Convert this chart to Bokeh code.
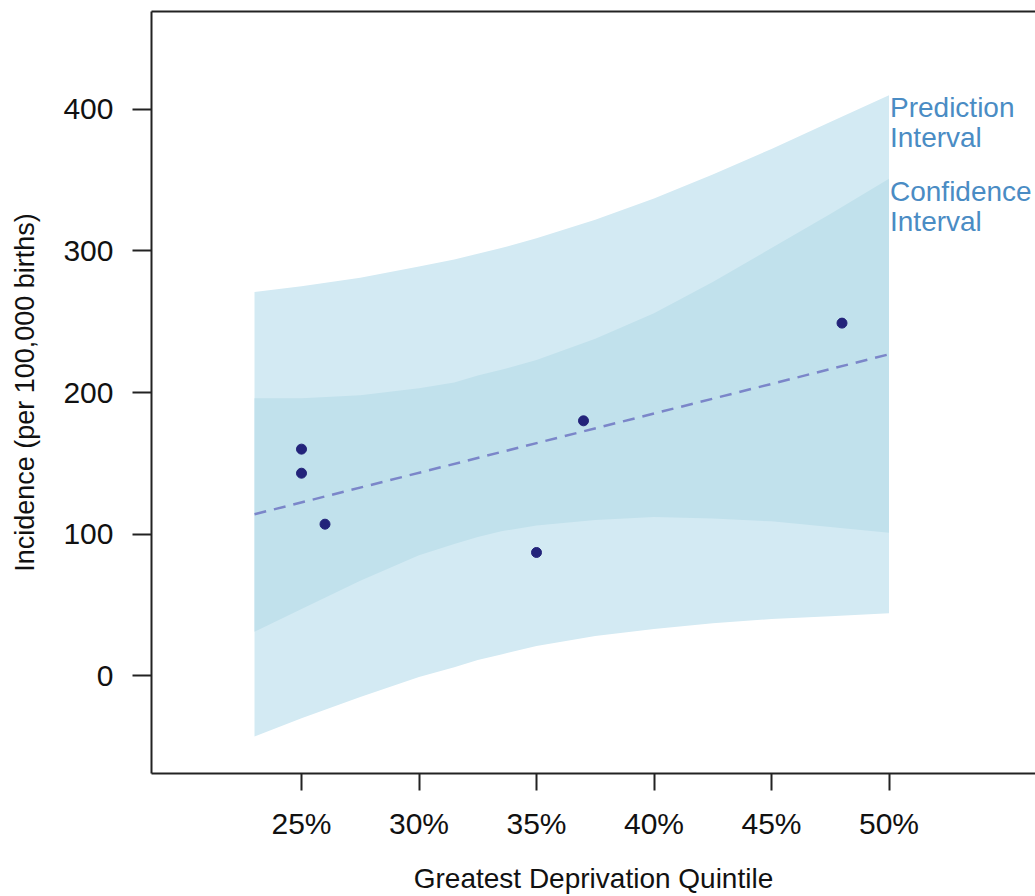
from bokeh.plotting import figure
from bokeh.models import LinearAxis, FixedTicker, PrintfTickFormatter, Range1d
from bokeh.embed import file_html
from bokeh.resources import INLINE
from bokeh.core.properties import value

# ---- data ----
quintile_pct = [25, 25, 26, 35, 37, 48]
incidence = [160, 143, 107, 87, 180, 249]

band_x = [23, 25, 27.5, 30, 31.5, 32.5, 33.5, 35, 37.5, 40, 42.5, 45, 47.5, 50]
pi_upper = [271, 275, 281, 289, 294, 298, 302, 309, 322, 337, 354, 372, 391, 410]
ci_upper = [196, 196, 198, 203, 207, 212, 216, 223, 238, 256, 278, 302, 326, 351]
ci_lower = [31, 47, 67, 85, 93, 98, 102, 106, 110, 112, 111, 109, 105, 101]
pi_lower = [-43, -30, -15, -1, 6, 11, 15, 21, 28, 33, 37, 40, 42, 44]

fit_x = [23, 50]
fit_y = [114, 227]

x_ticks = [25, 30, 35, 40, 45, 50]
y_ticks = [0, 100, 200, 300, 400]

band_labels = ["Prediction\nInterval", "Confidence\nInterval"]

FONT = "Liberation Sans"
AX = "#222222"

p = figure(width=1035, height=896, output_backend="svg", toolbar_location=None,
           x_range=Range1d(18.617, 56.234), y_range=Range1d(-69.1, 469.1),
           min_border_left=151, min_border_right=0, min_border_top=11, min_border_bottom=122)
p.outline_line_color = None
p.xgrid.grid_line_color = None
p.ygrid.grid_line_color = None
p.background_fill_color = "white"

# bands
p.varea(x=band_x, y1=pi_lower, y2=pi_upper, fill_color="#d3eaf3")
p.varea(x=band_x, y1=ci_lower, y2=ci_upper, fill_color="#c1e1ec")

# fit line
p.line(fit_x, fit_y, line_color="#7b86c9", line_width=2.5, line_dash="12 8")

# points
p.scatter(quintile_pct, incidence, size=10, color="#23237a")

# labels
p.text(x=[band_x[-1], band_x[-1]], y=[pi_upper[-1], ci_upper[-1]], text=band_labels,
       text_font=value(FONT), text_font_size="28px", text_color="#4a8cc4",
       text_baseline="top", text_align="left", text_line_height=0.97,
       x_offset=1, y_offset=-3)

# axes styling
for ax in (p.xaxis[0], p.yaxis[0]):
    ax.axis_line_width = 2
    ax.axis_line_color = AX
    ax.major_tick_line_width = 2
    ax.major_tick_line_color = AX
    ax.major_tick_in = 0
    ax.minor_tick_in = 0
    ax.minor_tick_out = 0
    ax.major_label_text_font = FONT
    ax.major_label_text_font_size = "30px"
    ax.major_label_text_color = "#111111"
    ax.axis_label_text_font = FONT
    ax.axis_label_text_font_style = "normal"
    ax.axis_label_text_color = "#111111"

p.xaxis.ticker = FixedTicker(ticks=x_ticks)
p.xaxis.formatter = PrintfTickFormatter(format="%d%%")
p.xaxis.major_tick_out = 17
p.xaxis.major_label_standoff = 16
p.xaxis.axis_label = "Greatest Deprivation Quintile"
p.xaxis.axis_label_text_font_size = "28px"
p.xaxis.axis_label_standoff = 20

p.yaxis.ticker = FixedTicker(ticks=y_ticks)
p.yaxis.major_tick_out = 19
p.yaxis.major_label_standoff = 19
p.yaxis.axis_label = "Incidence (per 100,000 births)"
p.yaxis.axis_label_text_font_size = "27px"
p.yaxis.axis_label_standoff = 20

# top frame line
top = LinearAxis(ticker=FixedTicker(ticks=[]), major_tick_out=0, major_tick_in=0,
                 minor_tick_out=0, minor_tick_in=0, major_label_text_font_size="0px",
                 major_label_standoff=0, axis_line_width=2, axis_line_color=AX)
p.add_layout(top, "above")

open("out.html", "w").write(file_html(p, INLINE))
